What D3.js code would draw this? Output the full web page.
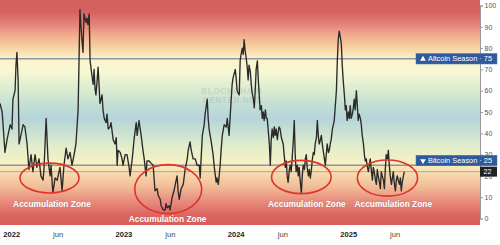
<!DOCTYPE html>
<html><head><meta charset="utf-8">
<script src="https://cdn.jsdelivr.net/npm/d3@7"></script>
<style>html,body{margin:0;padding:0;background:#fff;}svg{display:block;}</style>
</head><body><svg id="chart" width="500" height="245"></svg>
<script>
// ---- DATA ----
const dates = ["2021-11-24","2021-12-01","2021-12-04","2021-12-10","2021-12-17","2021-12-27","2022-01-02","2022-01-05","2022-01-12","2022-01-15","2022-01-18","2022-01-22","2022-01-25","2022-01-31","2022-02-07","2022-02-13","2022-02-20","2022-02-26","2022-03-05","2022-03-11","2022-03-18","2022-03-24","2022-03-31","2022-04-06","2022-04-13","2022-04-16","2022-04-23","2022-04-29","2022-05-06","2022-05-09","2022-05-15","2022-05-22","2022-05-29","2022-06-04","2022-06-07","2022-06-14","2022-06-20","2022-06-27","2022-07-03","2022-07-10","2022-07-16","2022-07-23","2022-07-29","2022-08-05","2022-08-08","2022-08-11","2022-08-15","2022-08-18","2022-08-21","2022-08-24","2022-08-31","2022-09-03","2022-09-06","2022-09-10","2022-09-13","2022-09-19","2022-09-23","2022-09-26","2022-09-29","2022-10-02","2022-10-06","2022-10-09","2022-10-12","2022-10-15","2022-10-22","2022-10-25","2022-10-29","2022-11-04","2022-11-07","2022-11-11","2022-11-17","2022-11-20","2022-11-27","2022-12-03","2022-12-07","2022-12-10","2022-12-13","2022-12-20","2022-12-26","2022-12-29","2023-01-05","2023-01-11","2023-01-18","2023-01-21","2023-01-28","2023-02-03","2023-02-10","2023-02-13","2023-02-19","2023-02-23","2023-02-26","2023-03-04","2023-03-08","2023-03-14","2023-03-17","2023-03-24","2023-03-30","2023-04-06","2023-04-09","2023-04-12","2023-04-19","2023-04-22","2023-04-29","2023-05-02","2023-05-09","2023-05-15","2023-05-18","2023-05-22","2023-05-28","2023-05-31","2023-06-07","2023-06-13","2023-06-17","2023-06-23","2023-06-26","2023-06-30","2023-07-06","2023-07-13","2023-07-19","2023-07-26","2023-07-29","2023-08-04","2023-08-08","2023-08-14","2023-08-21","2023-08-27","2023-09-03","2023-09-06","2023-09-09","2023-09-13","2023-09-19","2023-09-22","2023-09-29","2023-10-02","2023-10-05","2023-10-12","2023-10-18","2023-10-22","2023-10-28","2023-10-31","2023-11-04","2023-11-10","2023-11-13","2023-11-17","2023-11-23","2023-11-30","2023-12-03","2023-12-09","2023-12-13","2023-12-16","2023-12-19","2023-12-22","2023-12-29","2024-01-01","2024-01-04","2024-01-11","2024-01-14","2024-01-17","2024-01-21","2024-01-24","2024-01-27","2024-01-30","2024-02-03","2024-02-06","2024-02-09","2024-02-12","2024-02-16","2024-02-19","2024-02-22","2024-02-26","2024-02-29","2024-03-03","2024-03-06","2024-03-10","2024-03-13","2024-03-16","2024-03-19","2024-03-23","2024-03-26","2024-03-29","2024-04-01","2024-04-05","2024-04-08","2024-04-11","2024-04-14","2024-04-18","2024-04-21","2024-04-24","2024-04-27","2024-05-01","2024-05-04","2024-05-07","2024-05-10","2024-05-14","2024-05-17","2024-05-20","2024-05-23","2024-05-27","2024-06-02","2024-06-05","2024-06-09","2024-06-12","2024-06-15","2024-06-18","2024-06-22","2024-06-25","2024-06-28","2024-07-01","2024-07-05","2024-07-08","2024-07-11","2024-07-14","2024-07-18","2024-07-21","2024-07-24","2024-07-27","2024-07-31","2024-08-03","2024-08-06","2024-08-10","2024-08-13","2024-08-16","2024-08-19","2024-08-23","2024-08-26","2024-08-29","2024-09-01","2024-09-05","2024-09-08","2024-09-11","2024-09-14","2024-09-18","2024-09-21","2024-09-24","2024-09-27","2024-10-01","2024-10-04","2024-10-07","2024-10-10","2024-10-14","2024-10-17","2024-10-20","2024-10-23","2024-10-27","2024-10-30","2024-11-02","2024-11-05","2024-11-09","2024-11-12","2024-11-15","2024-11-18","2024-11-22","2024-11-25","2024-11-28","2024-12-01","2024-12-05","2024-12-08","2024-12-11","2024-12-14","2024-12-18","2024-12-21","2024-12-24","2024-12-27","2024-12-31","2025-01-03","2025-01-06","2025-01-09","2025-01-13","2025-01-16","2025-01-19","2025-01-22","2025-01-26","2025-01-29","2025-02-01","2025-02-04","2025-02-08","2025-02-11","2025-02-14","2025-02-18","2025-02-21","2025-02-24","2025-02-27","2025-03-03","2025-03-06","2025-03-09","2025-03-12","2025-03-16","2025-03-19","2025-03-22","2025-03-25","2025-03-29","2025-04-01","2025-04-04","2025-04-07","2025-04-11","2025-04-14","2025-04-17","2025-04-20","2025-04-24","2025-04-27","2025-04-30","2025-05-03","2025-05-07","2025-05-10","2025-05-13","2025-05-16","2025-05-20","2025-05-23","2025-05-26","2025-05-29","2025-06-02","2025-06-05","2025-06-08","2025-06-11","2025-06-15","2025-06-18","2025-06-21","2025-06-24","2025-06-28","2025-07-01"];
const values = [54,50,44,31,37,44,42,56,60,72,78,65,35,39,44,43,35,23,30,22,30,24,28,20,18,23,47,28,20,25,12,19,18,22,24,13,25,33,28,31,25,30,35,51,74,98,89,83,78,96,92,94,91,96,74,67,63,70,61,58,65,71,63,54,58,51,47,45,49,42,43,45,37,35,38,25,32,31,28,25,30,30,24,20,28,37,45,39,46,42,39,32,28,20,27,27,26,25,19,13,14,11,9,6,4,4,7,5,6,4,10,13,16,20,13,9,14,16,23,28,32,36,32,28,28,25,25,19,28,39,44,49,56,47,42,36,30,24,17,19,16,25,32,39,44,43,47,39,49,56,63,66,70,66,60,58,74,77,80,77,84,79,75,71,65,72,69,63,59,56,52,60,70,74,65,58,51,53,47,50,46,51,47,47,42,35,25,37,42,38,43,39,42,37,41,43,42,38,35,30,24,27,20,17,23,25,22,28,37,46,30,22,25,20,24,18,12,20,25,23,28,30,24,20,23,19,22,28,31,30,35,38,46,39,35,37,39,35,32,28,25,30,35,31,32,35,37,42,44,46,52,60,74,84,88,85,82,72,65,58,51,53,46,50,47,53,47,49,52,56,51,60,53,46,49,47,44,39,35,30,27,28,24,22,25,28,22,18,24,22,18,16,23,20,17,14,22,20,18,14,23,30,28,32,25,20,16,19,22,17,13,18,20,18,16,19,13,17,20,22];

const yTicks = [0,10,20,30,40,50,60,70,80,90,100];
const xTickDates = ["2022-01-01","2022-06-01","2023-01-01","2023-06-01","2024-01-01","2024-06-01","2025-01-01","2025-06-01"];
const xTickLabels = ["2022","jun","2023","jun","2024","jun","2025","jun"];
const xDomain = ["2021-11-24","2026-03-04"];

const seasonValues = [75, 25];
const seasonLabels = ["Altcoin Season", "Bitcoin Season"];
const currentValue = 22;

const zoneDates = ["2022-05-04","2023-05-25","2024-07-31","2025-05-07"];
const zoneValues = [19, 13.8, 19.5, 19];
const zoneHalfDays = [96, 109, 97, 98];
const zoneHalfValues = [7, 11.5, 7.8, 8.5];
const zoneLabelDates = ["2022-05-12","2023-05-23","2024-08-18","2025-05-26"];
const zoneLabelValues = [6.8, -0.2, 6.8, 6.8];
const zoneLabel = "Accumulation Zone";

const gradValues = [103, 97, 91, 86, 81.5, 75, 69, 60, 52, 47, 40.6, 33, 26.5, 22, 15, 8.7, 1.6, -3.2];
const gradColors = ["#d45f5e","#d6625f","#e5837a","#f0ad8e","#f6c99e","#fdf3c8","#f8f8d4","#d9ebd0","#c0dcd6","#b6d4da","#c9e1d2","#e4eecb","#f7f0c3","#f8deb2","#f2bd98","#e98f80","#da6661","#d65e5c"];

// ---- LAYOUT ----
const W = 500, H = 245, plotW = 480, plotH = 225;
const parse = d3.utcParse("%Y-%m-%d");
const svg = d3.select("#chart");
const x = d3.scaleUtc().domain(xDomain.map(parse)).range([0, plotW]);
const y = d3.scaleLinear().domain([0, 100]).range([218.5, 5.5]);
const fontF = "'Liberation Sans', Arial, sans-serif";

// background gradient
const defs = svg.append("defs");
const grad = defs.append("linearGradient").attr("id","bg").attr("gradientUnits","userSpaceOnUse")
  .attr("x1",0).attr("x2",0).attr("y1",0).attr("y2",plotH);
grad.selectAll("stop").data(gradValues).join("stop")
  .attr("offset", v => Math.max(0, Math.min(1, y(v)/plotH)))
  .attr("stop-color", (v,i) => gradColors[i]);
defs.append("clipPath").attr("id","clip").append("rect").attr("width",plotW).attr("height",plotH);

svg.append("rect").attr("width",W).attr("height",H).attr("fill","#fff");
svg.append("rect").attr("width",plotW).attr("height",plotH).attr("fill","url(#bg)");

// watermark
const wm = svg.append("g").attr("fill","#7d8f96").attr("opacity",0.22)
  .attr("font-family",fontF).attr("font-weight","bold").attr("font-size",8.2)
  .attr("text-anchor","middle").attr("letter-spacing",0.6);
wm.append("text").attr("x", x(parse("2023-12-18"))).attr("y", y(58.5)).text("BLOCKCHAIN");
wm.append("text").attr("x", x(parse("2023-12-18"))).attr("y", y(54.3)).text("CENTER.NET");

// threshold lines
svg.append("g").selectAll("line").data(seasonValues).join("line")
  .attr("x1",0).attr("x2",plotW).attr("y1",d=>y(d)).attr("y2",d=>y(d))
  .attr("stroke","#8a97a6").attr("stroke-width",1.4);
svg.append("line").attr("x1",0).attr("x2",plotW).attr("y1",y(currentValue)).attr("y2",y(currentValue))
  .attr("stroke","#9a9a9a").attr("stroke-width",0.8);

// series line
const line = d3.line().x((d,i)=>x(parse(dates[i]))).y(d=>y(d));
svg.append("path").datum(values).attr("clip-path","url(#clip)")
  .attr("fill","none").attr("stroke","#2a2a2a").attr("stroke-width",1.35)
  .attr("stroke-linejoin","round").attr("d", line);

// accumulation zones
const zg = svg.append("g");
zoneDates.forEach((d,i) => {
  const cd = parse(d);
  const cx = x(cd), cy = y(zoneValues[i]);
  const rx = x(d3.utcDay.offset(cd, zoneHalfDays[i])) - cx;
  const ry = y(0) - y(zoneHalfValues[i]);
  zg.append("ellipse").attr("cx",cx).attr("cy",cy).attr("rx",rx).attr("ry",ry)
    .attr("fill","none").attr("stroke","#e0332b").attr("stroke-width",1.6);
  zg.append("text").attr("x", x(parse(zoneLabelDates[i]))).attr("y", y(zoneLabelValues[i]))
    .attr("dy","0.35em").attr("text-anchor","middle")
    .attr("font-family",fontF).attr("font-weight","bold").attr("font-size",8.4)
    .attr("fill","#fff").attr("stroke","rgba(120,60,60,0.25)").attr("stroke-width",0.6)
    .attr("paint-order","stroke").text(zoneLabel);
});

// right axis
const yAxis = d3.axisRight(y).tickValues(yTicks).tickSize(3).tickPadding(1.5);
const ya = svg.append("g").attr("transform",`translate(${plotW},0)`).call(yAxis);
ya.select(".domain").attr("stroke","#9a9a9a");
ya.selectAll(".tick line").attr("stroke","#9a9a9a");
ya.selectAll(".tick text").attr("font-family",fontF).attr("font-size",7).attr("fill","#555");

// x axis labels
const xa = svg.append("g").attr("font-family",fontF).attr("font-size",7.6).attr("text-anchor","middle");
xa.selectAll("text").data(xTickDates).join("text")
  .attr("x", d => x(parse(d))).attr("y", 237)
  .attr("fill", (d,i) => /\d/.test(xTickLabels[i]) ? "#222" : "#444")
  .attr("font-weight", (d,i) => /\d/.test(xTickLabels[i]) ? "bold" : "normal")
  .text((d,i) => xTickLabels[i]);

// season label boxes
const boxX = 416, boxW = 81, boxH = 10.5;
const boxTops = [y(seasonValues[0]) - boxH/2, y(seasonValues[1]) - boxH + 0.5];
seasonValues.forEach((v,i) => {
  const g = svg.append("g");
  const top = boxTops[i];
  g.append("rect").attr("x",boxX).attr("y",top).attr("width",boxW).attr("height",boxH)
    .attr("fill","#2f5b9d").attr("stroke","#4a75b5").attr("stroke-width",0.5);
  g.append("path").attr("transform",`translate(${boxX+7},${top+boxH/2+0.3}) rotate(${i===0?0:180})`)
    .attr("d", d3.symbol(d3.symbolTriangle, 14)()).attr("fill","#fff");
  g.append("text").attr("x",boxX+12).attr("y",top+boxH/2).attr("dy","0.35em")
    .attr("font-family",fontF).attr("font-size",7.4).attr("fill","#fff")
    .text(seasonLabels[i] + " · " + v);
});

// current value box
svg.append("rect").attr("x",480).attr("y",y(currentValue)-5).attr("width",17).attr("height",10).attr("fill","#222");
svg.append("text").attr("x",483.5).attr("y",y(currentValue)).attr("dy","0.35em")
  .attr("font-family",fontF).attr("font-size",7.2).attr("fill","#fff").text(currentValue);
</script></body></html>
